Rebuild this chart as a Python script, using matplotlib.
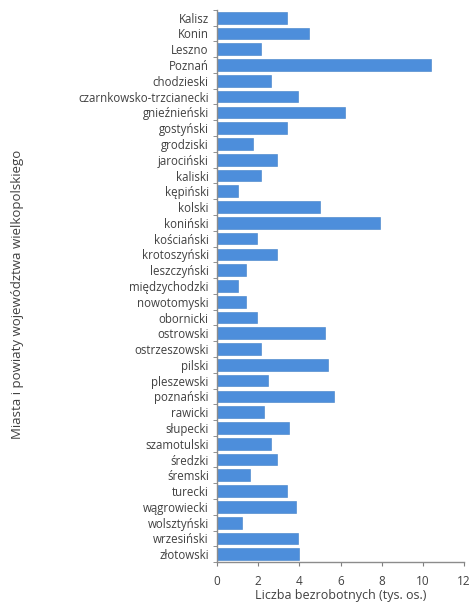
import matplotlib.pyplot as plt
import numpy as np

powiaty = ['Kalisz', 'Konin', 'Leszno', 'Poznań', 'chodzieski',
           'czarnkowsko-trzcianecki', 'gnieźnieński', 'gostyński', 'grodziski',
           'jarociński', 'kaliski', 'kępiński', 'kolski', 'koniński',
           'kościański', 'krotoszyński', 'leszczyński', 'międzychodzki',
           'nowotomyski', 'obornicki', 'ostrowski', 'ostrzeszowski', 'pilski',
           'pleszewski', 'poznański', 'rawicki', 'słupecki', 'szamotulski',
           'średzki', 'śremski', 'turecki', 'wągrowiecki', 'wolsztyński',
           'wrzesiński', 'złotowski']
bezrobotni = [3.4, 4.45, 2.15, 10.38, 2.62,
              3.92, 6.23, 3.4, 1.76,
              2.93, 2.15, 1.0, 5.0, 7.92,
              1.93, 2.93, 1.39, 1.0,
              1.38, 1.93, 5.23, 2.15, 5.39,
              2.46, 5.7, 2.3, 3.47, 2.62,
              2.93, 1.62, 3.4, 3.84, 1.23,
              3.92, 4.0]
xticks = [0, 2, 4, 6, 8, 10, 12]

plt.rcParams['font.family'] = ['Open Sans', 'DejaVu Sans']

fig = plt.figure(figsize=(4.73, 6.13), dpi=100)
ax = fig.add_axes([0.459, 0.083, 0.522, 0.901])

y = np.arange(len(powiaty))
ax.barh(y, bezrobotni, height=0.74, color='#4D8EDB', edgecolor='#3F7FC8', linewidth=0.4)

ax.set_ylim(len(powiaty) - 0.5, -0.5)
ax.set_xlim(0, 12)
ax.set_yticks(y)
ax.set_yticklabels(powiaty, fontsize=8.3, color='#404040')
ax.set_yticks(np.arange(len(powiaty) + 1) - 0.5, minor=True)
ax.tick_params(axis='y', which='major', length=0, pad=6)
ax.tick_params(axis='y', which='minor', length=3, color='#7f7f7f', direction='out')
ax.set_xticks(xticks)
ax.set_xticklabels([str(t) for t in xticks], fontsize=8.5, color='#404040')
ax.tick_params(axis='x', length=3, color='#7f7f7f', direction='out', pad=6)

for s in ['top', 'right']:
    ax.spines[s].set_visible(False)
for s in ['left', 'bottom']:
    ax.spines[s].set_color('#8c8c8c')
    ax.spines[s].set_linewidth(1.0)

ax.set_xlabel('Liczba bezrobotnych (tys. os.)', fontsize=9, color='#404040', labelpad=1)
fig.text(0.036, 0.52, 'Miasta i powiaty województwa wielkopolskiego', rotation=90,
         ha='center', va='center', fontsize=9.5, color='#404040')

fig.savefig('out.png', dpi=100)
